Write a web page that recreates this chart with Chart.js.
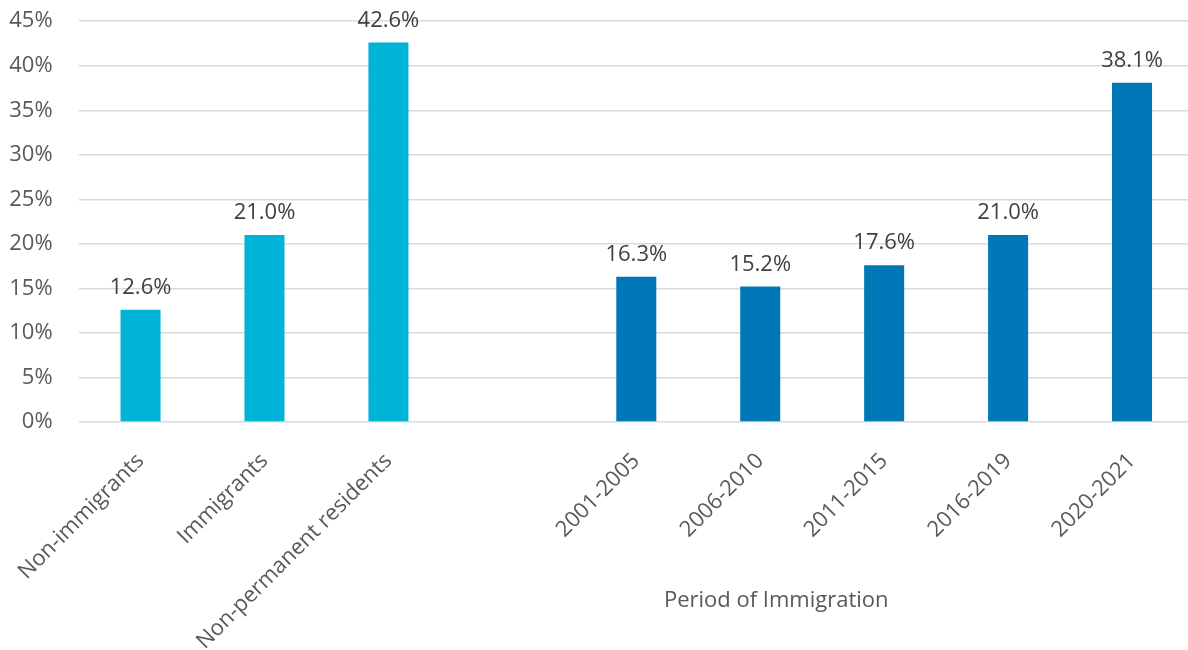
<!DOCTYPE html>
<html>
<head>
<meta charset="utf-8">
<script src="https://cdn.jsdelivr.net/npm/chart.js@4"></script>
<style>
  html, body { margin: 0; padding: 0; background: #fff; overflow: hidden; }
  #wrap { width: 1188px; height: 650px; overflow: hidden; }
  #chart { display: block; margin-top: -18px; }
</style>
</head>
<body>
<div id="wrap"><canvas id="chart" width="1196" height="668"></canvas></div>
<script>
// Status groups and period of immigration (percent)
const statusLabels = ['Non-immigrants', 'Immigrants', 'Non-permanent residents'];
const statusValues = [12.6, 21.0, 42.6];
const periodLabels = ['2001-2005', '2006-2010', '2011-2015', '2016-2019', '2020-2021'];
const periodValues = [16.3, 15.2, 17.6, 21.0, 38.1];
const periodTitle = 'Period of Immigration';

const yTicks = [0, 5, 10, 15, 20, 25, 30, 35, 40, 45];

const FONT = '"Open Sans", sans-serif';
const TEXT = '#595959';

// one empty slot between the two groups
const labels = [...statusLabels, '', ...periodLabels];
const statusData = [...statusValues, ...Array(1 + periodLabels.length).fill(null)];
const periodData = [...Array(statusLabels.length + 1).fill(null), ...periodValues];

// Value labels above bars + the group title under the period labels
const annotatePlugin = {
  id: 'annotate',
  afterDatasetsDraw(chart) {
    const ctx = chart.ctx;
    ctx.save();
    ctx.font = '22px ' + FONT;
    ctx.fillStyle = '#404040';
    ctx.textAlign = 'center';
    ctx.textBaseline = 'alphabetic';
    chart.data.datasets.forEach((ds, i) => {
      chart.getDatasetMeta(i).data.forEach((bar, j) => {
        const v = ds.data[j];
        if (v == null) return;
        ctx.fillText(v.toFixed(1) + '%', bar.x, bar.y - 16);
      });
    });

    const x = chart.scales.x;
    const cx = (x.getPixelForValue(5) + x.getPixelForValue(6)) / 2 - 46;
    ctx.fillStyle = TEXT;
    ctx.textBaseline = 'middle';
    ctx.fillText(periodTitle, cx, chart.chartArea.bottom + 179);
    ctx.restore();
  }
};

new Chart(document.getElementById('chart').getContext('2d'), {
  type: 'bar',
  data: {
    labels: labels,
    datasets: [{
      label: 'Status',
      data: statusData,
      backgroundColor: '#00B4D8',
      grouped: false,
      barPercentage: 0.323,
      categoryPercentage: 1
    }, {
      label: 'Period',
      data: periodData,
      backgroundColor: '#0077B6',
      grouped: false,
      barPercentage: 0.323,
      categoryPercentage: 1
    }]
  },
  options: {
    responsive: false,
    animation: false,
    layout: { padding: { top: 2, right: 2 } },
    plugins: {
      legend: { display: false },
      tooltip: { enabled: false }
    },
    scales: {
      x: {
        grid: { display: false },
        border: { display: false },
        ticks: {
          color: TEXT,
          font: { family: FONT, size: 22 },
          minRotation: 45,
          maxRotation: 45,
          padding: 18,
          autoSkip: false
        },
        afterFit(scale) { scale.height = 228; }
      },
      y: {
        min: 0,
        max: 45,
        afterBuildTicks(scale) { scale.ticks = yTicks.map(v => ({ value: v })); },
        grid: { color: '#D9D9D9', lineWidth: 1.5, drawTicks: false },
        border: { display: false },
        ticks: {
          color: TEXT,
          font: { family: FONT, size: 22 },
          padding: 26,
          callback: v => v + '%'
        },
        afterFit(scale) { scale.width = 78; }
      }
    }
  },
  plugins: [annotatePlugin]
});
</script>
</body>
</html>
